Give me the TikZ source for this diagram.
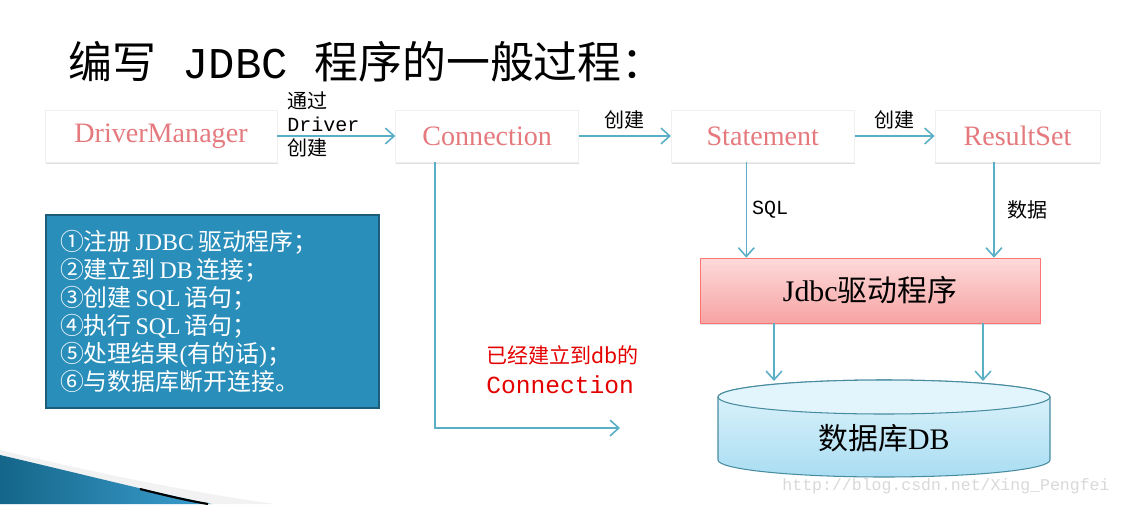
\documentclass[tikz,border=0pt]{standalone}
\usepackage{fontspec}
\setmainfont{Liberation Serif}
\newfontfamily\cjk{Noto Sans CJK SC}
\newfontfamily\mono{Liberation Mono}
\usetikzlibrary{arrows.meta,positioning,shadows}
\definecolor{linec}{HTML}{5AAFC7}
\definecolor{namec}{HTML}{E57A7E}
\definecolor{stepc}{HTML}{2A8EBB}
\definecolor{redtop}{HTML}{FDDADA}
\definecolor{redbot}{HTML}{F7A3A3}
\definecolor{dbtop}{HTML}{E2F5FC}
\definecolor{dbbot}{HTML}{A9DDF2}
\definecolor{swl}{HTML}{146689}
\definecolor{swr}{HTML}{3C9FD0}

\begin{document}
\begin{tikzpicture}[x=0.02cm,y=-0.02cm,>={Straight Barb[length=5pt,width=9pt]}]
  \tikzstyle{box}=[fill=white,draw=gray!12,drop shadow={shadow xshift=0.3pt,shadow yshift=-1.3pt,opacity=0.25},minimum height=1.04cm,inner sep=0pt,text=namec,font=\fontsize{16}{18}\selectfont]
  \tikzstyle{flow}=[draw=linec,line width=0.9pt,->]
  \tikzstyle{lbl}=[inner sep=0pt,align=left,font=\fontsize{11.4}{13.4}\selectfont]
  \useasboundingbox[fill=white] (0,0) rectangle (1122,504);

  % slide corner
  \fill[gray!10] (0,450) .. controls (100,474) and (200,494) .. (275,504) -- (0,504) -- cycle;
  \shade[left color=swl,right color=swr] (0,455) .. controls (90,476) and (160,494) .. (212,504) -- (0,504) -- cycle;
  \draw[line width=1.2pt] (140,489) .. controls (168,496) and (190,501) .. (208,504);

  \node[anchor=west,inner sep=0pt,font=\fontsize{25}{28}\selectfont] (title) at (68,62) {{\cjk 编写}{\mono\ JDBC\ }{\cjk 程序的一般过程：}};

  % top row
  \node[box,minimum width=4.64cm] (dm) at (161,136) {DriverManager};
  \node[box,minimum width=3.66cm,right=2.36cm of dm] (conn) {Connection};
  \node[box,minimum width=3.66cm,right=1.84cm of conn] (stmt) {Statement};
  \node[box,minimum width=3.3cm,right=1.6cm of stmt] (rs) {ResultSet};
  \draw[flow] (dm) -- (conn);
  \draw[flow] (conn) -- node[lbl,above=0.12cm] (mk1) {\cjk 创建} (stmt);
  \draw[flow] (stmt) -- node[lbl,above=0.12cm] (mk2) {\cjk 创建} (rs);
  \node[lbl,anchor=west] (via) at (287,124) {{\cjk 通过}\\{\mono Driver}\\{\cjk 创建}};

  % steps
  \node[fill=stepc,draw=stepc!65!black,line width=1.4pt,text=white,text width=6.1cm,inner xsep=0.28cm,minimum height=3.86cm,align=left,font=\fontsize{13.6}{16}\selectfont] (steps) at (212.5,311.5) {%
    {\cjk ①注册}\,JDBC\,{\cjk 驱动程序；}\\
    {\cjk ②建立到}\,DB\,{\cjk 连接；}\\
    {\cjk ③创建}\,SQL\,{\cjk 语句；}\\
    {\cjk ④执行}\,SQL\,{\cjk 语句；}\\
    {\cjk ⑤处理结果}({\cjk 有的话}){\cjk ；}\\
    {\cjk ⑥与数据库断开连接。}};

  % driver and database
  \node[draw=red!55,top color=redtop,bottom color=redbot,drop shadow={shadow xshift=0.3pt,shadow yshift=-1.3pt,opacity=0.25},minimum width=6.8cm,minimum height=1.3cm,inner sep=0pt,font=\fontsize{17}{20}\selectfont] (jdbc) at (870,290.5) {Jdbc{\cjk 驱动程序}};
  \draw[flow] ([xshift=-0.33cm]stmt.south) -- ([xshift=-0.33cm]stmt.south |- jdbc.north) node[lbl,midway,right=0.1cm] (sql) {\mono SQL};
  \draw[flow] ([xshift=-0.47cm]rs.south) -- ([xshift=-0.47cm]rs.south |- jdbc.north) node[lbl,midway,right=0.25cm] (data) {\cjk 数据};

  \shade[top color=dbtop,bottom color=dbbot,draw=linec!80!black,line width=0.6pt] (718,397) -- (718,460) arc[start angle=180,end angle=0,x radius=166,y radius=17] -- (1050,397) arc[start angle=0,end angle=-180,x radius=166,y radius=17] -- cycle;
  \draw[fill=dbtop,draw=linec!80!black,line width=0.6pt] (884,397) ellipse[x radius=166,y radius=17];
  \node[font=\fontsize{17}{20}\selectfont] (db) at (884,438) {{\cjk 数据库}DB};
  \coordinate (dbin1) at (774,381);
  \coordinate (dbin2) at (983,381);
  \draw[flow] (jdbc.south -| dbin1) -- (dbin1);
  \draw[flow] (jdbc.south -| dbin2) -- (dbin2);

  % connection kept open
  \coordinate (cbend) at (435,428);
  \coordinate (cend) at (620,428);
  \draw[flow] (conn.south -| cbend) -- (cbend) -- (cend);
  \node[lbl,anchor=west,text=red!90!black,font=\fontsize{12}{17}\selectfont] (open) at (486,370) {{\cjk 已经建立到db的}\\{\mono\fontsize{14}{17}\selectfont Connection}};

  \node[text=gray!30,font=\mono\fontsize{9.4}{11}\selectfont] (mark) at (946,486) {http://blog.csdn.net/Xing\_Pengfei};
\end{tikzpicture}
\end{document}
